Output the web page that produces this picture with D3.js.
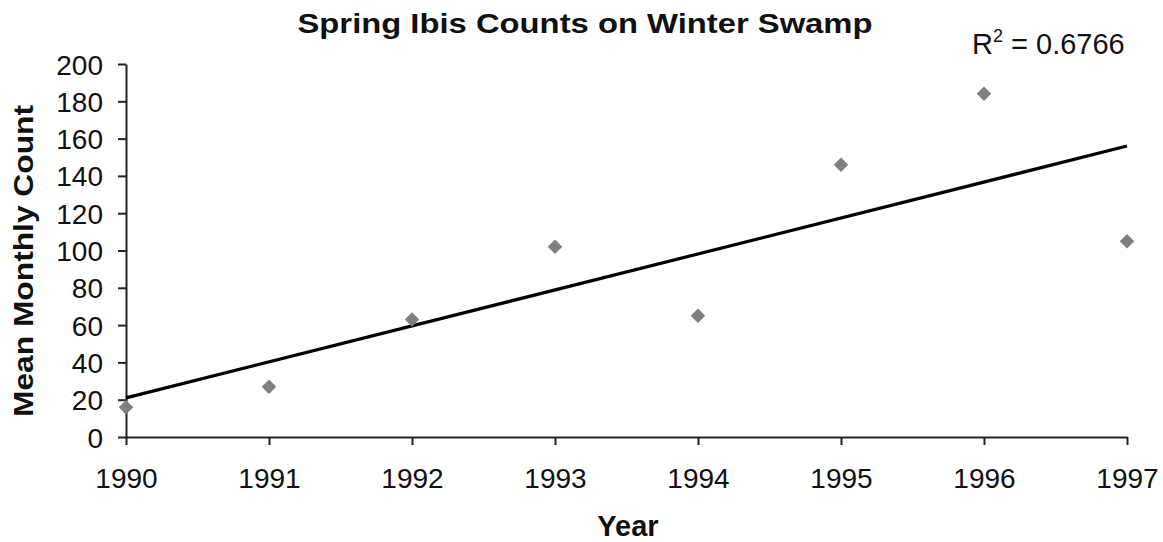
<!DOCTYPE html>
<html>
<head>
<meta charset="utf-8">
<script src="https://cdn.jsdelivr.net/npm/d3@7"></script>
<style>
  body { margin: 0; background: #fff; }
  text { font-family: "Liberation Sans", Arial, sans-serif; fill: #111; }
</style>
</head>
<body>
<div id="plot"></div>
<script>
// chart data
const years = [1990, 1991, 1992, 1993, 1994, 1995, 1996, 1997];
const counts = [16, 27, 63, 102, 65, 146, 184, 105];
const yTicks = [0, 20, 40, 60, 80, 100, 120, 140, 160, 180, 200];
const rSquared = "0.6766";

const w = 1163;
const h = 542;
const margin = {top: 64, right: 36, bottom: 105, left: 126};

const svg = d3.select("div#plot")
  .append("svg")
  .attr("width", w)
  .attr("height", h);

const x = d3.scaleLinear()
  .domain([1990, 1997])
  .range([margin.left, w - margin.right]);

const y = d3.scaleLinear()
  .domain([0, 200])
  .range([h - margin.bottom, margin.top]);

// y axis
const yAxis = svg.append("g")
  .attr("transform", `translate(${margin.left},0)`)
  .call(d3.axisLeft(y).tickValues(yTicks).tickSize(8).tickPadding(15).tickSizeOuter(0));

// x axis
const xAxis = svg.append("g")
  .attr("transform", `translate(0,${h - margin.bottom})`)
  .call(d3.axisBottom(x).tickValues(years).tickFormat(d3.format("d")).tickSize(8).tickPadding(14).tickSizeOuter(0));

[yAxis, xAxis].forEach(g => {
  g.select(".domain").attr("stroke", "#222").attr("stroke-width", 2);
  g.selectAll(".tick line").attr("stroke", "#222").attr("stroke-width", 2);
  g.selectAll(".tick text")
    .attr("fill", "#111")
    .style("font-family", "Liberation Sans, Arial, sans-serif")
    .style("font-size", "28px");
});
yAxis.selectAll(".tick text").attr("dy", "0.36em");
xAxis.selectAll(".tick text").attr("dy", "1.05em");

// linear trend line (least squares)
const mx = d3.mean(years), my = d3.mean(counts);
const slope = d3.sum(years, (d, i) => (d - mx) * (counts[i] - my)) / d3.sum(years, d => (d - mx) ** 2);
const intercept = my - slope * mx;
const trend = [years[0], years[years.length - 1]].map(d => [d, intercept + slope * d]);

svg.append("path")
  .datum(trend)
  .attr("fill", "none")
  .attr("stroke", "#000")
  .attr("stroke-width", 3.2)
  .attr("d", d3.line().x(d => x(d[0])).y(d => y(d[1])));

// points
svg.selectAll(".pt")
  .data(years)
  .enter()
  .append("path")
  .attr("class", "pt")
  .attr("d", d3.symbol().type(d3.symbolSquare).size(105))
  .attr("transform", (d, i) => `translate(${x(d)},${y(counts[i])}) rotate(45)`)
  .attr("fill", "#7f7f7f");

// title
svg.append("text")
  .attr("x", 585)
  .attr("y", 33)
  .attr("text-anchor", "middle")
  .attr("textLength", 575)
  .attr("lengthAdjust", "spacingAndGlyphs")
  .style("font-size", "28px")
  .style("font-weight", "bold")
  .text("Spring Ibis Counts on Winter Swamp");

// R squared label
const r2 = svg.append("text")
  .attr("x", 972)
  .attr("y", 54)
  .style("font-size", "29px");
r2.append("tspan").text("R");
r2.append("tspan").attr("dy", -12).style("font-size", "18px").text("2");
r2.append("tspan").attr("dy", 12).text(" = " + rSquared);

// axis titles
svg.append("text")
  .attr("transform", "translate(33,261) rotate(-90)")
  .attr("text-anchor", "middle")
  .attr("textLength", 312)
  .attr("lengthAdjust", "spacingAndGlyphs")
  .style("font-size", "28px")
  .style("font-weight", "bold")
  .text("Mean Monthly Count");

svg.append("text")
  .attr("x", 628)
  .attr("y", 536)
  .attr("text-anchor", "middle")
  .style("font-size", "29px")
  .style("font-weight", "bold")
  .text("Year");
</script>
</body>
</html>
